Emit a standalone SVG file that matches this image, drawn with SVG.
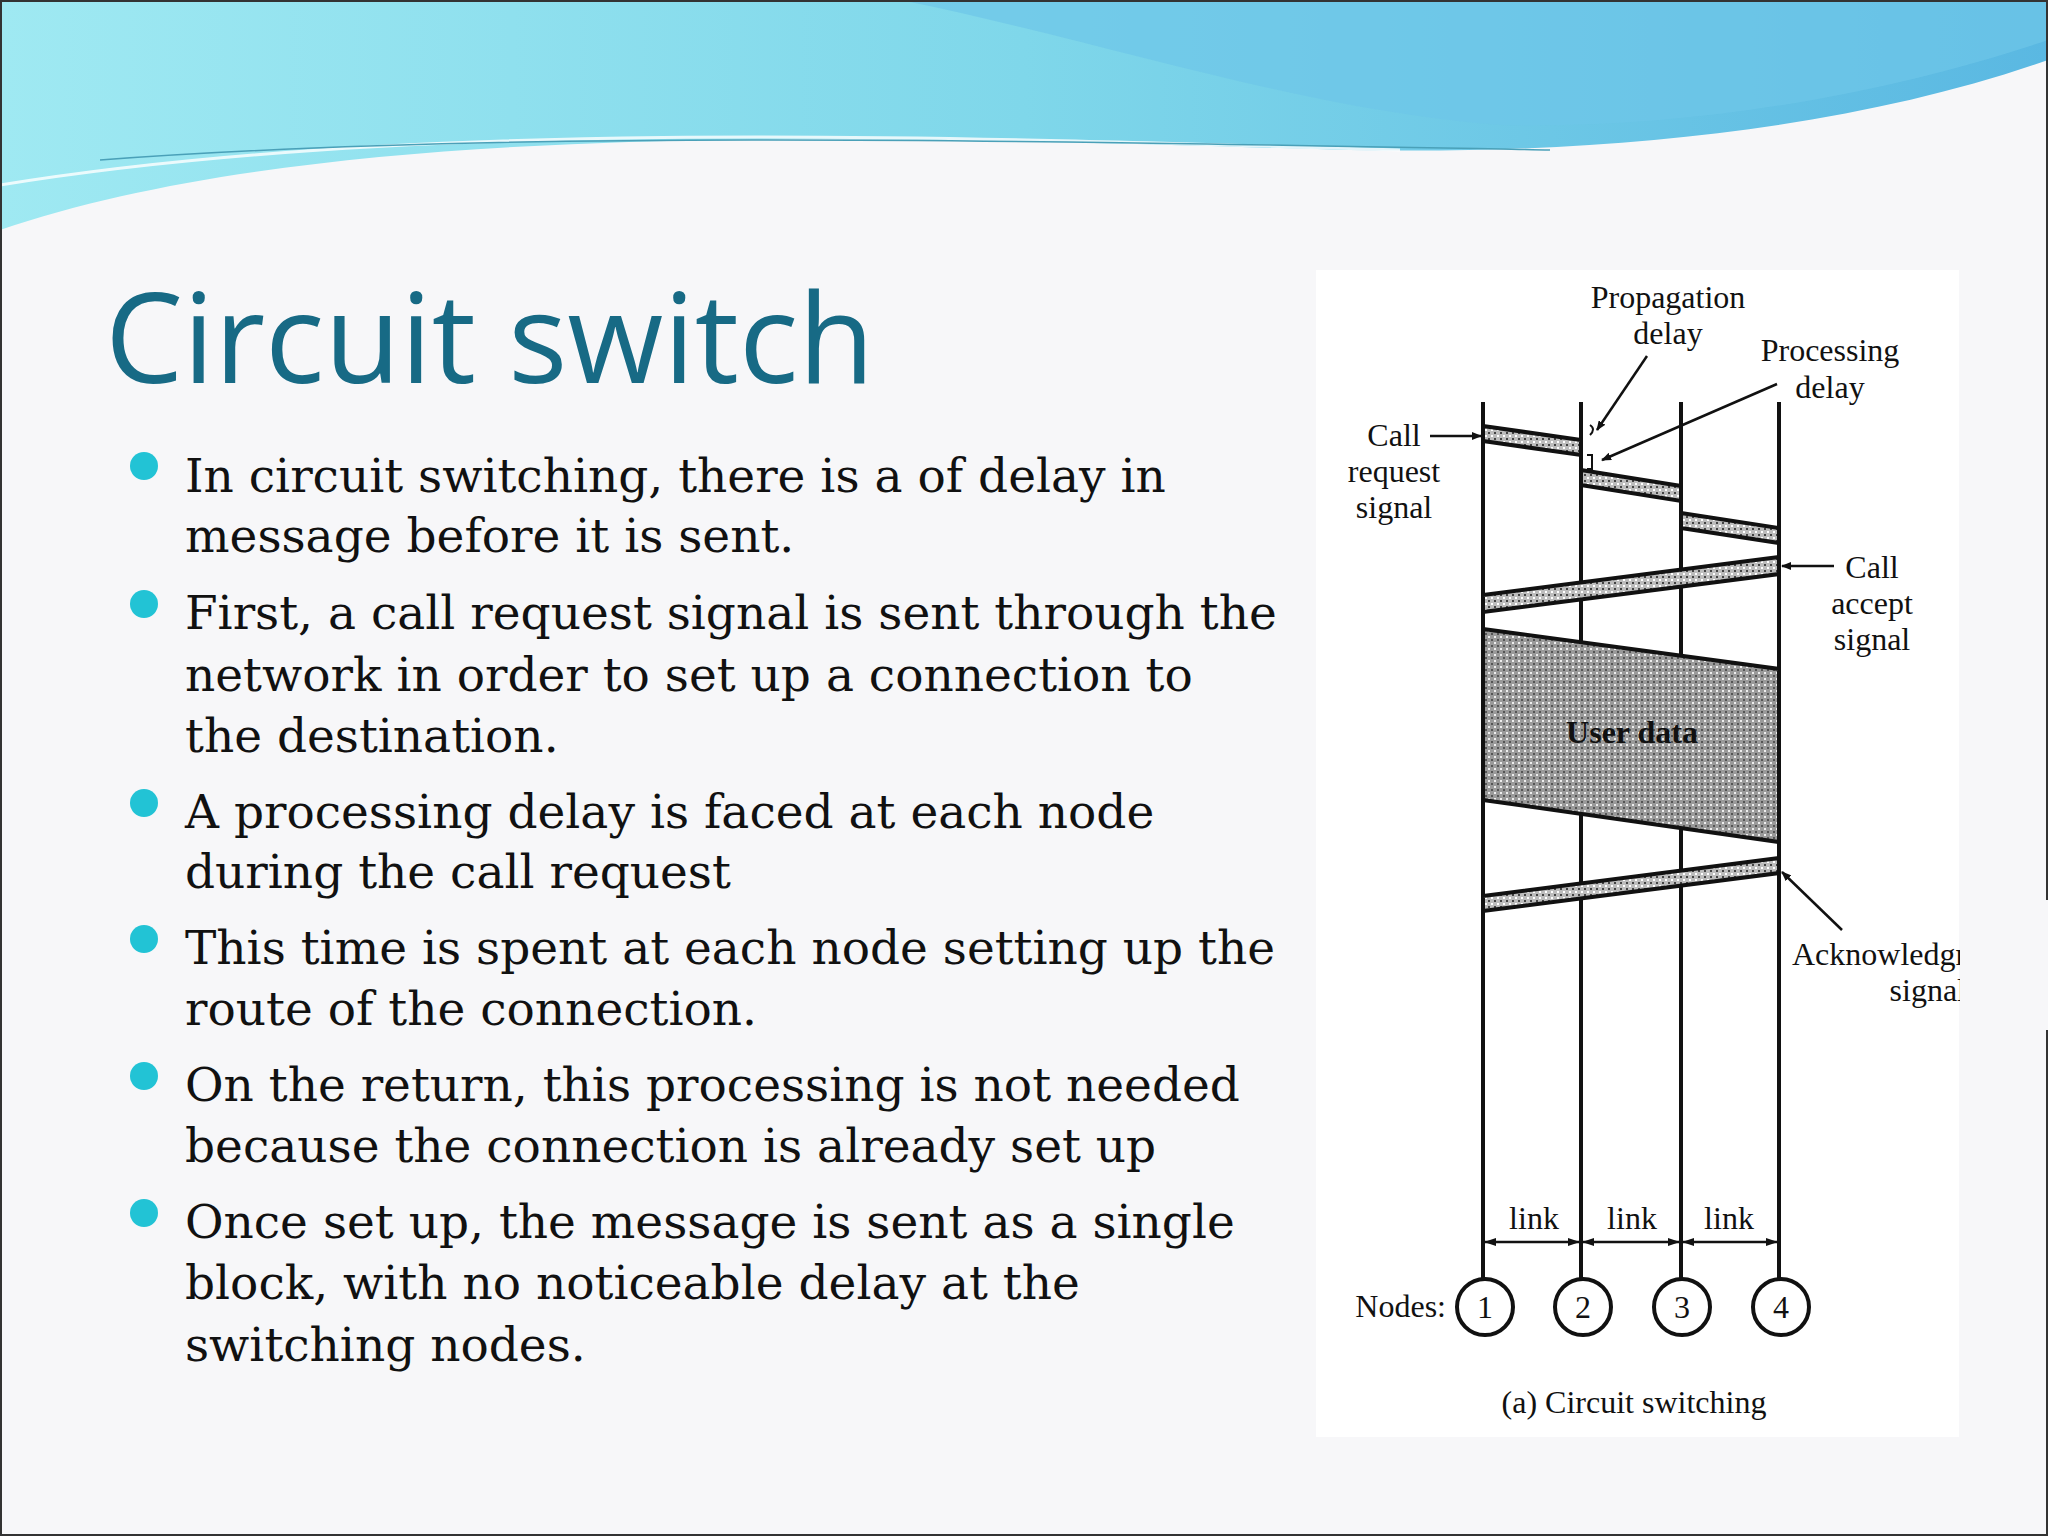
<svg xmlns="http://www.w3.org/2000/svg" width="2048" height="1536" viewBox="0 0 2048 1536">
<style>
.b{font-family:"DejaVu Serif","Liberation Serif",serif;font-size:47px;fill:#111}
.d{font-family:"Liberation Serif",serif;font-size:32px;fill:#111}
.ln{stroke:#111;stroke-width:4;fill:none}
.band{fill:url(#sp);stroke:#111;stroke-width:4}
.ar{stroke:#111;stroke-width:2.5;fill:none;marker-end:url(#ah)}
</style>
<defs>
<linearGradient id="g1" x1="0" x2="1" y1="0" y2="0"><stop offset="0" stop-color="#9fe9f2"/><stop offset="0.5" stop-color="#7fd7ea"/><stop offset="1" stop-color="#5ab8e2"/></linearGradient>
<pattern id="sp" width="6" height="6" patternUnits="userSpaceOnUse"><rect width="6" height="6" fill="#bdbdbd"/><rect width="2" height="2" fill="#444"/><rect x="3" y="3" width="2" height="2" fill="#fff"/></pattern>
<pattern id="ud" width="6" height="6" patternUnits="userSpaceOnUse"><rect width="6" height="6" fill="#9a9a9a"/><rect width="2" height="2" fill="#eee"/><rect x="3" y="3" width="2" height="2" fill="#555"/></pattern>
<marker id="ah" markerWidth="10" markerHeight="8" refX="9" refY="4" orient="auto" markerUnits="userSpaceOnUse"><path d="M0,0 L10,4 L0,8 Z" fill="#111"/></marker>
<marker id="la" markerWidth="12" markerHeight="8" refX="11" refY="4" orient="auto-start-reverse" markerUnits="userSpaceOnUse"><path d="M0,0 L12,4 L0,8 Z" fill="#111"/></marker>
</defs>
<rect width="2048" height="1536" fill="#f7f7f9"/>
<g id="header">
<path d="M0,0 H2048 V60 C1850,130 1600,155 1350,150 C950,140 350,110 0,230 Z" fill="url(#g1)"/>
<path d="M900,0 C1100,40 1300,110 1500,125 C1700,130 1900,90 2048,40 V0 Z" fill="#6ec6e8" opacity="0.7"/>
<path d="M0,185 C400,120 900,135 1400,150" stroke="#ffffff" stroke-width="3" fill="none" opacity="0.8"/>
<path d="M100,160 C500,130 1000,140 1550,150" stroke="#4aa0b8" stroke-width="1.5" fill="none"/>
</g>
<rect x="1" y="1" width="2046" height="1534" fill="none" stroke="#333" stroke-width="2"/>
<text x="105" y="383" font-family="'Open Sans',sans-serif" font-size="124" fill="#176a85">Circuit switch</text>
<g id="bullets" fill="#22c3d5">
<circle cx="144" cy="466" r="14"/><circle cx="144" cy="604" r="14"/><circle cx="144" cy="803" r="14"/><circle cx="144" cy="939" r="14"/><circle cx="144" cy="1076" r="14"/><circle cx="144" cy="1213" r="14"/>
</g>
<g id="text">
<text class="b" x="185" y="492">In circuit switching, there is a of delay in</text>
<text class="b" x="185" y="552">message before it is sent.</text>
<text class="b" x="185" y="629">First, a call request signal is sent through the</text>
<text class="b" x="185" y="691">network in order to set up a connection to</text>
<text class="b" x="185" y="752">the destination.</text>
<text class="b" x="185" y="828">A processing delay is faced at each node</text>
<text class="b" x="185" y="888">during the call request</text>
<text class="b" x="185" y="964">This time is spent at each node setting up the</text>
<text class="b" x="185" y="1025">route of the connection.</text>
<text class="b" x="185" y="1101">On the return, this processing is not needed</text>
<text class="b" x="185" y="1162">because the connection is already set up</text>
<text class="b" x="185" y="1238">Once set up, the message is sent as a single</text>
<text class="b" x="185" y="1299">block, with no noticeable delay at the</text>
<text class="b" x="185" y="1361">switching nodes.</text>
</g>
<rect x="1316" y="270" width="643" height="1167" fill="#ffffff"/>
<g id="connectors">
<line class="ln" x1="1483" y1="402" x2="1483" y2="1282"/>
<line class="ln" x1="1581" y1="402" x2="1581" y2="1282"/>
<line class="ln" x1="1681" y1="402" x2="1681" y2="1282"/>
<line class="ln" x1="1779" y1="402" x2="1779" y2="1282"/>
<path class="band" d="M1483,426 L1581,440 L1581,455 L1483,441 Z"/>
<path class="band" d="M1581,470 L1681,486 L1681,501 L1581,485 Z"/>
<path class="band" d="M1681,513 L1779,528 L1779,543 L1681,528 Z"/>
<path class="band" d="M1779,557 L1483,595 L1483,612 L1779,574 Z"/>
<path d="M1483,629 L1779,669 L1779,842 L1483,800 Z" fill="url(#ud)" stroke="#111" stroke-width="4"/>
<path class="band" d="M1779,858 L1483,896 L1483,911 L1779,873 Z"/>
<path d="M1590,425 q6,4 0,10" stroke="#111" stroke-width="2" fill="none"/>
<path d="M1587,455 h5 v14 h-5" stroke="#111" stroke-width="2" fill="none"/>
<line class="ar" x1="1647" y1="356" x2="1597" y2="430"/>
<line class="ar" x1="1777" y1="384" x2="1602" y2="460"/>
<line class="ar" x1="1430" y1="436" x2="1481" y2="436"/>
<line class="ar" x1="1834" y1="566" x2="1782" y2="566"/>
<line class="ar" x1="1842" y1="930" x2="1782" y2="872"/>
<line x1="1485" y1="1242" x2="1579" y2="1242" stroke="#111" stroke-width="2.5" marker-start="url(#la)" marker-end="url(#la)"/>
<line x1="1583" y1="1242" x2="1679" y2="1242" stroke="#111" stroke-width="2.5" marker-start="url(#la)" marker-end="url(#la)"/>
<line x1="1683" y1="1242" x2="1777" y2="1242" stroke="#111" stroke-width="2.5" marker-start="url(#la)" marker-end="url(#la)"/>
</g>
<g id="node1"><circle cx="1485" cy="1307" r="28" fill="#fff" stroke="#111" stroke-width="4"/><text class="d" x="1485" y="1318" text-anchor="middle">1</text></g>
<g id="node2"><circle cx="1583" cy="1307" r="28" fill="#fff" stroke="#111" stroke-width="4"/><text class="d" x="1583" y="1318" text-anchor="middle">2</text></g>
<g id="node3"><circle cx="1682" cy="1307" r="28" fill="#fff" stroke="#111" stroke-width="4"/><text class="d" x="1682" y="1318" text-anchor="middle">3</text></g>
<g id="node4"><circle cx="1781" cy="1307" r="28" fill="#fff" stroke="#111" stroke-width="4"/><text class="d" x="1781" y="1318" text-anchor="middle">4</text></g>
<g id="labels">
<text class="d" x="1668" y="308" text-anchor="middle">Propagation</text>
<text class="d" x="1668" y="344" text-anchor="middle">delay</text>
<text class="d" x="1830" y="361" text-anchor="middle">Processing</text>
<text class="d" x="1830" y="398" text-anchor="middle">delay</text>
<text class="d" x="1394" y="446" text-anchor="middle">Call</text>
<text class="d" x="1394" y="482" text-anchor="middle">request</text>
<text class="d" x="1394" y="518" text-anchor="middle">signal</text>
<text class="d" x="1872" y="578" text-anchor="middle">Call</text>
<text class="d" x="1872" y="614" text-anchor="middle">accept</text>
<text class="d" x="1872" y="650" text-anchor="middle">signal</text>
<text class="d" x="1632" y="743" text-anchor="middle" font-weight="bold">User data</text>
<text class="d" x="1792" y="965">Acknowledgment</text>
<text class="d" x="1966" y="1001" text-anchor="end">signal</text>
<text class="d" x="1534" y="1229" text-anchor="middle">link</text>
<text class="d" x="1632" y="1229" text-anchor="middle">link</text>
<text class="d" x="1729" y="1229" text-anchor="middle">link</text>
<text class="d" x="1446" y="1317" text-anchor="end">Nodes:</text>
<text class="d" x="1634" y="1413" text-anchor="middle">(a) Circuit switching</text>
</g>
<rect x="1960" y="900" width="88" height="130" fill="#f7f7f9"/>
</svg>
